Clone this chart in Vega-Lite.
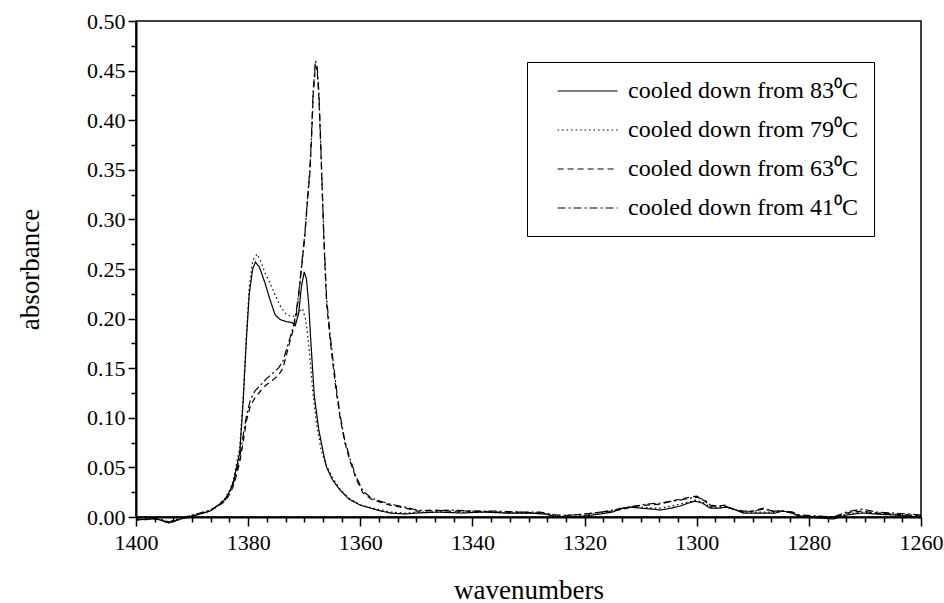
{
  "$schema": "https://vega.github.io/schema/vega-lite/v6.json",
  "width": 785,
  "height": 496,
  "autosize": {"type": "none"},
  "padding": {"left": 136, "top": 21, "right": 23, "bottom": 86},
  "background": "white",
  "config": {"view": {"stroke": "black", "strokeWidth": 1.5}, "font": "Liberation Serif"},
  "datasets": {
    "spectra": [
      {"s":"83","w":1400,"a":-0.003},{"s":"83","w":1398,"a":-0.002},{"s":"83","w":1396.3,"a":-0.002},{"s":"83","w":1394.1,"a":-0.006},{"s":"83","w":1392,"a":-0.002},{"s":"83","w":1389.2,"a":0.002},{"s":"83","w":1386.8,"a":0.006},{"s":"83","w":1385.3,"a":0.012},{"s":"83","w":1384.1,"a":0.018},{"s":"83","w":1383.2,"a":0.027},{"s":"83","w":1382.6,"a":0.036},{"s":"83","w":1381.5,"a":0.065},{"s":"83","w":1380.9,"a":0.115},{"s":"83","w":1380.3,"a":0.18},{"s":"83","w":1379.8,"a":0.225},{"s":"83","w":1379.2,"a":0.25},{"s":"83","w":1378.7,"a":0.257},{"s":"83","w":1378,"a":0.252},{"s":"83","w":1377,"a":0.236},{"s":"83","w":1376.1,"a":0.219},{"s":"83","w":1375.2,"a":0.204},{"s":"83","w":1374.3,"a":0.199},{"s":"83","w":1373.2,"a":0.197},{"s":"83","w":1372.2,"a":0.196},{"s":"83","w":1371.6,"a":0.193},{"s":"83","w":1371,"a":0.205},{"s":"83","w":1370.5,"a":0.232},{"s":"83","w":1370,"a":0.247},{"s":"83","w":1369.6,"a":0.24},{"s":"83","w":1369.2,"a":0.215},{"s":"83","w":1368.8,"a":0.175},{"s":"83","w":1368.2,"a":0.122},{"s":"83","w":1367.4,"a":0.088},{"s":"83","w":1366.5,"a":0.062},{"s":"83","w":1366,"a":0.05},{"s":"83","w":1365,"a":0.038},{"s":"83","w":1363.6,"a":0.027},{"s":"83","w":1362,"a":0.018},{"s":"83","w":1360,"a":0.012},{"s":"83","w":1357,"a":0.007},{"s":"83","w":1354.7,"a":0.004},{"s":"83","w":1352,"a":0.003},{"s":"83","w":1349.9,"a":0.004},{"s":"83","w":1346,"a":0.005},{"s":"83","w":1342,"a":0.004},{"s":"83","w":1338,"a":0.005},{"s":"83","w":1334,"a":0.004},{"s":"83","w":1330,"a":0.004},{"s":"83","w":1327,"a":0.003},{"s":"83","w":1325,"a":0.0},{"s":"83","w":1322,"a":0.0},{"s":"83","w":1320,"a":0.001},{"s":"83","w":1317.2,"a":0.003},{"s":"83","w":1315,"a":0.005},{"s":"83","w":1313.7,"a":0.008},{"s":"83","w":1312,"a":0.01},{"s":"83","w":1310.1,"a":0.009},{"s":"83","w":1308,"a":0.008},{"s":"83","w":1306.5,"a":0.007},{"s":"83","w":1304.5,"a":0.009},{"s":"83","w":1303,"a":0.011},{"s":"83","w":1301.5,"a":0.014},{"s":"83","w":1300.3,"a":0.016},{"s":"83","w":1299,"a":0.014},{"s":"83","w":1297.6,"a":0.009},{"s":"83","w":1296,"a":0.009},{"s":"83","w":1294.7,"a":0.01},{"s":"83","w":1293,"a":0.007},{"s":"83","w":1291.7,"a":0.004},{"s":"83","w":1290,"a":0.004},{"s":"83","w":1288.1,"a":0.004},{"s":"83","w":1286,"a":0.004},{"s":"83","w":1284.6,"a":0.006},{"s":"83","w":1283,"a":0.004},{"s":"83","w":1281.6,"a":0.0},{"s":"83","w":1278,"a":-0.001},{"s":"83","w":1275.6,"a":-0.002},{"s":"83","w":1273.3,"a":0.002},{"s":"83","w":1270.5,"a":0.004},{"s":"83","w":1268,"a":0.003},{"s":"83","w":1264.9,"a":0.002},{"s":"83","w":1262,"a":0.001},{"s":"83","w":1260,"a":-0.001},

      {"s":"79","w":1400,"a":-0.003},{"s":"79","w":1396.3,"a":-0.002},{"s":"79","w":1394.1,"a":-0.005},{"s":"79","w":1392,"a":-0.001},{"s":"79","w":1389.2,"a":0.003},{"s":"79","w":1386.8,"a":0.006},{"s":"79","w":1385.3,"a":0.012},{"s":"79","w":1384.1,"a":0.019},{"s":"79","w":1383.2,"a":0.028},{"s":"79","w":1382.6,"a":0.038},{"s":"79","w":1381.5,"a":0.07},{"s":"79","w":1380.9,"a":0.12},{"s":"79","w":1380.3,"a":0.185},{"s":"79","w":1379.8,"a":0.232},{"s":"79","w":1379.2,"a":0.258},{"s":"79","w":1378.4,"a":0.265},{"s":"79","w":1377.6,"a":0.256},{"s":"79","w":1377,"a":0.246},{"s":"79","w":1376.1,"a":0.236},{"s":"79","w":1375.2,"a":0.224},{"s":"79","w":1374.3,"a":0.213},{"s":"79","w":1373.2,"a":0.204},{"s":"79","w":1372.2,"a":0.202},{"s":"79","w":1371.5,"a":0.203},{"s":"79","w":1370.8,"a":0.208},{"s":"79","w":1370.3,"a":0.21},{"s":"79","w":1369.8,"a":0.2},{"s":"79","w":1369.4,"a":0.185},{"s":"79","w":1369,"a":0.162},{"s":"79","w":1368.5,"a":0.128},{"s":"79","w":1367.8,"a":0.094},{"s":"79","w":1367,"a":0.068},{"s":"79","w":1366.2,"a":0.054},{"s":"79","w":1365,"a":0.04},{"s":"79","w":1363.6,"a":0.028},{"s":"79","w":1362,"a":0.019},{"s":"79","w":1360,"a":0.012},{"s":"79","w":1357,"a":0.008},{"s":"79","w":1354.7,"a":0.005},{"s":"79","w":1352,"a":0.004},{"s":"79","w":1349.9,"a":0.005},{"s":"79","w":1346,"a":0.005},{"s":"79","w":1342,"a":0.005},{"s":"79","w":1338,"a":0.005},{"s":"79","w":1334,"a":0.004},{"s":"79","w":1330,"a":0.004},{"s":"79","w":1327,"a":0.003},{"s":"79","w":1325,"a":0.001},{"s":"79","w":1322,"a":0.0},{"s":"79","w":1320,"a":0.002},{"s":"79","w":1317.2,"a":0.004},{"s":"79","w":1315,"a":0.006},{"s":"79","w":1313.7,"a":0.009},{"s":"79","w":1312,"a":0.01},{"s":"79","w":1310,"a":0.01},{"s":"79","w":1308,"a":0.009},{"s":"79","w":1306.5,"a":0.009},{"s":"79","w":1304.5,"a":0.011},{"s":"79","w":1303,"a":0.013},{"s":"79","w":1301.5,"a":0.015},{"s":"79","w":1300.3,"a":0.017},{"s":"79","w":1299,"a":0.015},{"s":"79","w":1297.6,"a":0.01},{"s":"79","w":1296,"a":0.009},{"s":"79","w":1294.7,"a":0.01},{"s":"79","w":1293,"a":0.007},{"s":"79","w":1291.7,"a":0.005},{"s":"79","w":1290,"a":0.005},{"s":"79","w":1288.1,"a":0.005},{"s":"79","w":1286,"a":0.005},{"s":"79","w":1284.6,"a":0.006},{"s":"79","w":1283,"a":0.004},{"s":"79","w":1281.6,"a":0.001},{"s":"79","w":1278,"a":0.0},{"s":"79","w":1275.6,"a":-0.001},{"s":"79","w":1273.3,"a":0.003},{"s":"79","w":1270.5,"a":0.005},{"s":"79","w":1268,"a":0.004},{"s":"79","w":1264.9,"a":0.003},{"s":"79","w":1262,"a":0.002},{"s":"79","w":1260,"a":0.0},

      {"s":"63","w":1400,"a":-0.003},{"s":"63","w":1396.3,"a":-0.002},{"s":"63","w":1394.1,"a":-0.006},{"s":"63","w":1392,"a":-0.002},{"s":"63","w":1389.2,"a":0.002},{"s":"63","w":1386.8,"a":0.006},{"s":"63","w":1385.3,"a":0.011},{"s":"63","w":1384.1,"a":0.016},{"s":"63","w":1383.2,"a":0.024},{"s":"63","w":1382.4,"a":0.035},{"s":"63","w":1381.5,"a":0.055},{"s":"63","w":1380.9,"a":0.075},{"s":"63","w":1380.3,"a":0.097},{"s":"63","w":1379.6,"a":0.112},{"s":"63","w":1378.8,"a":0.12},{"s":"63","w":1377.8,"a":0.127},{"s":"63","w":1376.8,"a":0.133},{"s":"63","w":1375.6,"a":0.138},{"s":"63","w":1374.6,"a":0.143},{"s":"63","w":1373.8,"a":0.15},{"s":"63","w":1373.1,"a":0.165},{"s":"63","w":1372.4,"a":0.18},{"s":"63","w":1371.9,"a":0.19},{"s":"63","w":1371.4,"a":0.205},{"s":"63","w":1371,"a":0.222},{"s":"63","w":1370.5,"a":0.25},{"s":"63","w":1369.9,"a":0.282},{"s":"63","w":1369.4,"a":0.32},{"s":"63","w":1369,"a":0.345},{"s":"63","w":1368.7,"a":0.38},{"s":"63","w":1368.4,"a":0.425},{"s":"63","w":1368,"a":0.455},{"s":"63","w":1367.7,"a":0.45},{"s":"63","w":1367.4,"a":0.425},{"s":"63","w":1367.1,"a":0.38},{"s":"63","w":1366.8,"a":0.33},{"s":"63","w":1366.5,"a":0.28},{"s":"63","w":1366.2,"a":0.24},{"s":"63","w":1366,"a":0.215},{"s":"63","w":1365.4,"a":0.18},{"s":"63","w":1364.8,"a":0.15},{"s":"63","w":1364.2,"a":0.123},{"s":"63","w":1363.6,"a":0.1},{"s":"63","w":1362.8,"a":0.076},{"s":"63","w":1361.8,"a":0.056},{"s":"63","w":1360.7,"a":0.038},{"s":"63","w":1359.5,"a":0.024},{"s":"63","w":1358,"a":0.018},{"s":"63","w":1356.5,"a":0.015},{"s":"63","w":1354.7,"a":0.012},{"s":"63","w":1352,"a":0.009},{"s":"63","w":1349.9,"a":0.006},{"s":"63","w":1347,"a":0.007},{"s":"63","w":1344,"a":0.006},{"s":"63","w":1340,"a":0.006},{"s":"63","w":1336,"a":0.005},{"s":"63","w":1332,"a":0.005},{"s":"63","w":1328,"a":0.004},{"s":"63","w":1325,"a":0.001},{"s":"63","w":1322,"a":0.002},{"s":"63","w":1320,"a":0.003},{"s":"63","w":1317,"a":0.005},{"s":"63","w":1315,"a":0.006},{"s":"63","w":1313,"a":0.008},{"s":"63","w":1311,"a":0.011},{"s":"63","w":1309,"a":0.012},{"s":"63","w":1306.5,"a":0.013},{"s":"63","w":1304.5,"a":0.016},{"s":"63","w":1303,"a":0.018},{"s":"63","w":1301.2,"a":0.02},{"s":"63","w":1300,"a":0.021},{"s":"63","w":1298.5,"a":0.016},{"s":"63","w":1297.6,"a":0.011},{"s":"63","w":1296,"a":0.011},{"s":"63","w":1295,"a":0.012},{"s":"63","w":1293.5,"a":0.008},{"s":"63","w":1291.7,"a":0.005},{"s":"63","w":1290,"a":0.006},{"s":"63","w":1288.1,"a":0.009},{"s":"63","w":1286.5,"a":0.006},{"s":"63","w":1284.6,"a":0.006},{"s":"63","w":1283,"a":0.005},{"s":"63","w":1281.6,"a":0.001},{"s":"63","w":1278,"a":0.0},{"s":"63","w":1275.6,"a":-0.001},{"s":"63","w":1273.3,"a":0.004},{"s":"63","w":1270.5,"a":0.006},{"s":"63","w":1268,"a":0.004},{"s":"63","w":1264.9,"a":0.003},{"s":"63","w":1262,"a":0.002},{"s":"63","w":1260,"a":0.001},

      {"s":"41","w":1400,"a":-0.002},{"s":"41","w":1398,"a":-0.002},{"s":"41","w":1396.3,"a":-0.001},{"s":"41","w":1394.1,"a":-0.005},{"s":"41","w":1392,"a":-0.001},{"s":"41","w":1389.2,"a":0.003},{"s":"41","w":1386.8,"a":0.007},{"s":"41","w":1385.3,"a":0.012},{"s":"41","w":1384.1,"a":0.017},{"s":"41","w":1383.2,"a":0.026},{"s":"41","w":1382.4,"a":0.038},{"s":"41","w":1381.5,"a":0.06},{"s":"41","w":1380.9,"a":0.082},{"s":"41","w":1380.3,"a":0.102},{"s":"41","w":1379.6,"a":0.118},{"s":"41","w":1378.8,"a":0.127},{"s":"41","w":1377.8,"a":0.133},{"s":"41","w":1376.8,"a":0.139},{"s":"41","w":1375.6,"a":0.145},{"s":"41","w":1374.6,"a":0.15},{"s":"41","w":1373.8,"a":0.157},{"s":"41","w":1373.1,"a":0.17},{"s":"41","w":1372.4,"a":0.183},{"s":"41","w":1371.9,"a":0.193},{"s":"41","w":1371.4,"a":0.208},{"s":"41","w":1371,"a":0.225},{"s":"41","w":1370.5,"a":0.252},{"s":"41","w":1369.9,"a":0.285},{"s":"41","w":1369.4,"a":0.322},{"s":"41","w":1369,"a":0.35},{"s":"41","w":1368.7,"a":0.385},{"s":"41","w":1368.4,"a":0.43},{"s":"41","w":1368,"a":0.46},{"s":"41","w":1367.7,"a":0.455},{"s":"41","w":1367.4,"a":0.43},{"s":"41","w":1367.1,"a":0.385},{"s":"41","w":1366.8,"a":0.335},{"s":"41","w":1366.5,"a":0.285},{"s":"41","w":1366.2,"a":0.245},{"s":"41","w":1366,"a":0.22},{"s":"41","w":1365.4,"a":0.185},{"s":"41","w":1364.8,"a":0.155},{"s":"41","w":1364.2,"a":0.127},{"s":"41","w":1363.6,"a":0.103},{"s":"41","w":1362.8,"a":0.078},{"s":"41","w":1361.8,"a":0.058},{"s":"41","w":1360.7,"a":0.04},{"s":"41","w":1359.5,"a":0.026},{"s":"41","w":1358,"a":0.019},{"s":"41","w":1356.5,"a":0.016},{"s":"41","w":1354.7,"a":0.013},{"s":"41","w":1352,"a":0.01},{"s":"41","w":1349.9,"a":0.007},{"s":"41","w":1347,"a":0.006},{"s":"41","w":1344,"a":0.007},{"s":"41","w":1340,"a":0.006},{"s":"41","w":1336,"a":0.006},{"s":"41","w":1332,"a":0.005},{"s":"41","w":1328,"a":0.005},{"s":"41","w":1325,"a":0.002},{"s":"41","w":1322,"a":0.002},{"s":"41","w":1320,"a":0.003},{"s":"41","w":1317,"a":0.005},{"s":"41","w":1315,"a":0.007},{"s":"41","w":1313,"a":0.009},{"s":"41","w":1311,"a":0.011},{"s":"41","w":1309,"a":0.013},{"s":"41","w":1306.5,"a":0.014},{"s":"41","w":1304.5,"a":0.016},{"s":"41","w":1303,"a":0.017},{"s":"41","w":1301.2,"a":0.019},{"s":"41","w":1300,"a":0.02},{"s":"41","w":1298.5,"a":0.017},{"s":"41","w":1297.6,"a":0.012},{"s":"41","w":1296,"a":0.011},{"s":"41","w":1295,"a":0.011},{"s":"41","w":1293.5,"a":0.008},{"s":"41","w":1291.7,"a":0.006},{"s":"41","w":1290,"a":0.006},{"s":"41","w":1288.1,"a":0.008},{"s":"41","w":1286.5,"a":0.006},{"s":"41","w":1284.6,"a":0.006},{"s":"41","w":1283,"a":0.005},{"s":"41","w":1281.6,"a":0.002},{"s":"41","w":1278,"a":0.001},{"s":"41","w":1275.6,"a":0.0},{"s":"41","w":1273.3,"a":0.005},{"s":"41","w":1270.5,"a":0.008},{"s":"41","w":1268,"a":0.005},{"s":"41","w":1264.9,"a":0.004},{"s":"41","w":1262,"a":0.003},{"s":"41","w":1260,"a":0.002}
    ]
  },
  "data": {"name": "spectra"},
  "mark": {"type": "line", "strokeWidth": 1.2, "color": "black", "clip": false},
  "encoding": {
    "x": {
      "field": "w", "type": "quantitative",
      "scale": {"domain": [1260, 1400], "reverse": true, "nice": false, "zero": false},
      "axis": {
        "title": "wavenumbers",
        "values": [1260, 1263.3333, 1266.6667, 1270, 1273.3333, 1276.6667, 1280, 1283.3333, 1286.6667, 1290, 1293.3333, 1296.6667, 1300, 1303.3333, 1306.6667, 1310, 1313.3333, 1316.6667, 1320, 1323.3333, 1326.6667, 1330, 1333.3333, 1336.6667, 1340, 1343.3333, 1346.6667, 1350, 1353.3333, 1356.6667, 1360, 1363.3333, 1366.6667, 1370, 1373.3333, 1376.6667, 1380, 1383.3333, 1386.6667, 1390, 1393.3333, 1396.6667, 1400],
        "format": "d",
        "labelExpr": "datum.value % 20 === 0 ? datum.label : ''",
        "labelOverlap": false,
        "labelFlush": false,
        "tickSize": {"condition": {"test": "datum.value % 20 === 0", "value": 9}, "value": 5},
        "tickColor": "black", "tickWidth": 1.5,
        "domainColor": "black", "domainWidth": 2,
        "labelFont": "Liberation Serif", "labelFontSize": 22, "labelColor": "black", "labelPadding": 6,
        "titleFont": "Liberation Serif", "titleFontSize": 27, "titleFontWeight": "normal", "titleColor": "black", "titlePadding": 24,
        "grid": false
      }
    },
    "y": {
      "field": "a", "type": "quantitative",
      "scale": {"domain": [0, 0.5], "nice": false, "zero": false},
      "axis": {
        "title": "absorbance",
        "values": [0, 0.025, 0.05, 0.075, 0.1, 0.125, 0.15, 0.175, 0.2, 0.225, 0.25, 0.275, 0.3, 0.325, 0.35, 0.375, 0.4, 0.425, 0.45, 0.475, 0.5],
        "format": ".2f",
        "labelExpr": "round(datum.value * 40) % 2 === 0 ? datum.label : ''",
        "labelOverlap": false,
        "labelFlush": false,
        "tickSize": {"condition": {"test": "round(datum.value * 40) % 2 === 0", "value": 8}, "value": 5},
        "tickColor": "black", "tickWidth": 1.5,
        "domainColor": "black", "domainWidth": 2,
        "labelFont": "Liberation Serif", "labelFontSize": 22, "labelColor": "black", "labelPadding": 3,
        "titleFont": "Liberation Serif", "titleFontSize": 27, "titleFontWeight": "normal", "titleColor": "black", "titlePadding": 42,
        "grid": false
      }
    },
    "strokeDash": {
      "field": "s", "type": "nominal",
      "scale": {"domain": ["83", "79", "63", "41"], "range": [[1, 0], [1.5, 3], [6, 4], [8, 3, 2, 3]]},
      "legend": {
        "title": null,
        "orient": "none", "legendX": 391, "legendY": 41,
        "strokeColor": "black", "padding": 16,
        "symbolType": "M-4.2,0H0.8", "symbolSize": 576, "symbolStrokeWidth": 1.2, "symbolStrokeColor": "black",
        "symbolOffset": 52,
        "labelFont": "Liberation Serif", "labelFontSize": 24, "labelColor": "black", "labelOffset": 7, "labelLimit": 400,
        "rowPadding": 14,
        "labelExpr": "'cooled down from ' + datum.label + '⁰C'"
      }
    },
    "order": {"field": "w", "type": "quantitative"}
  }
}
